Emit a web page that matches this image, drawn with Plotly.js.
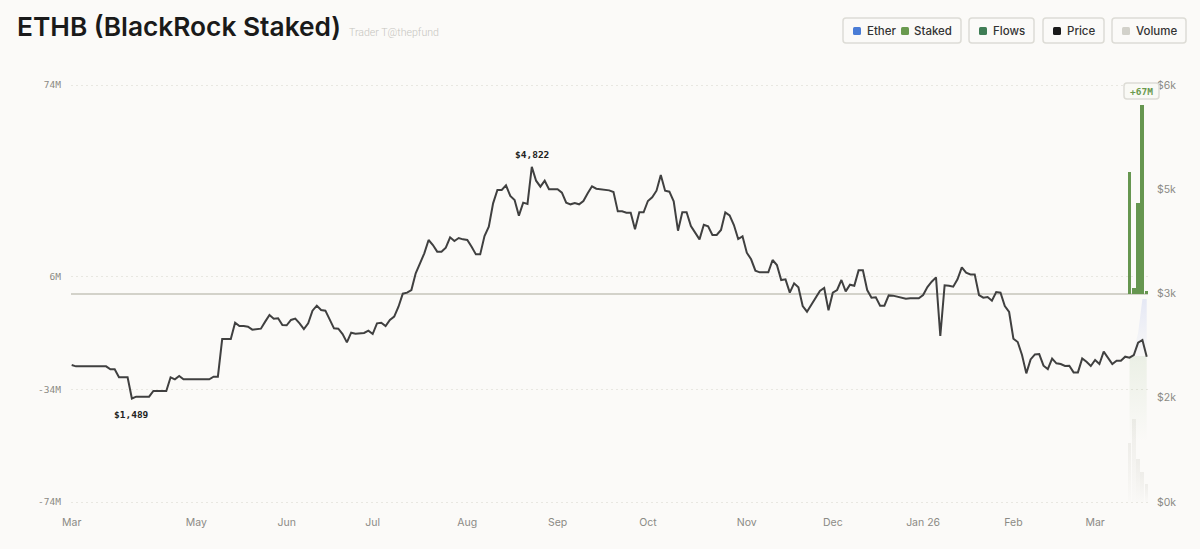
<!DOCTYPE html>
<html><head><meta charset="utf-8">
<script src="https://cdn.plot.ly/plotly-3.0.1.min.js"></script>
<style>html,body{margin:0;padding:0;background:#fbfaf8}#c{width:1200px;height:549px}</style>
</head><body><div id="c"></div>
<script>
const price = [1971,1952,1952,1952,1952,1952,1952,1952,1952,1909,1909,1794,1794,1794,1489,1516,1516,1516,1516,1597,1597,1597,1597,1794,1765,1813,1765,1765,1765,1765,1765,1765,1765,1803,1803,2345,2345,2345,2580,2532,2532,2523,2480,2489,2494,2595,2691,2638,2643,2547,2542,2619,2638,2571,2489,2571,2753,2825,2762,2753,2628,2499,2494,2417,2297,2436,2422,2432,2432,2465,2417,2571,2580,2532,2619,2667,2810,2997,3012,3050,
3290,3434,3578,3770,3698,3602,3602,3659,3808,3755,3798,3779,3770,3674,3563,3563,3827,3962,4297,4489,4489,4556,4403,4345,4120,4307,4288,4822,4623,4537,4623,4499,4499,4499,4451,4307,4283,4302,4283,4331,4441,4542,4508,4499,4484,4484,4460,4182,4182,4163,4163,3923,4168,4168,4331,4384,4479,4705,4479,4465,4326,3904,4168,4168,3971,3875,3779,3990,3966,3842,3842,3914,4168,4125,3985,3784,3822,3587,3492,3328,3304,3304,3304,3482,3410,
3194,3204,3012,3146,3088,2820,2738,2834,2930,3036,3079,2758,3012,3050,3194,3031,3127,3112,3333,3333,3050,2940,2945,2825,2825,2973,2969,2954,2935,2925,2930,2930,2930,2978,3093,3170,3232,2388,3117,3112,3098,3204,3376,3300,3275,3275,2978,2940,2949,2897,3021,3012,2820,2734,2350,2302,2115,1851,2052,2124,2129,1961,1913,2062,1995,
1985,1957,1961,1865,1865,2067,2019,1957,2043,1985,2163,2067,1985,2033,2033,2091,2076,2115,2292,2331,2091];
const days = price.map((_, i) => i);
const recentDays = [246,247,248,249,250];
const flows = [43.2,1.8,32.2,67,0.9];
const volume = [59,83,43,30,18];
const staked = [146,146,146,146,146];
const ether = [0,6,23,57,57];
const monthIdx = [0,29,50,70,92,113,134,157,177,198,219,238];
const monthLabels = ['Mar','May','Jun','Jul','Aug','Sep','Oct','Nov','Dec','Jan 26','Feb','Mar'];
const flowTicks = [-74,-34,6,74];
const flowTickLabels = ['-74M','-34M','6M','74M'];
const priceTicks = [0,1500,3000,4500,6000];
const priceTickLabels = ['$0k','$2k','$3k','$5k','$6k'];

const L=71,R=1148,T=82,B=505;
const px=x=>(x-L)/(R-L), py=y=>(B-y)/(B-T);
const MONO='"DejaVu Sans Mono",monospace', SANS='Inter,"Noto Sans",sans-serif';
function rrect(x0,y0,x1,y1,r,fill,line,lw){
  const rx=r/(R-L), ry=r/(B-T), a=px(x0),b=px(x1),c=py(y0),d=py(y1);
  return {type:'path',xref:'paper',yref:'paper',layer:'above',
    path:`M${a+rx},${c} L${b-rx},${c} Q${b},${c} ${b},${c-ry} L${b},${d+ry} Q${b},${d} ${b-rx},${d} L${a+rx},${d} Q${a},${d} ${a},${d+ry} L${a},${c-ry} Q${a},${c} ${a+rx},${c} Z`,
    fillcolor:fill,line:{color:line,width:lw}};
}
function txt(x,y,t,size,color,anchor,family,weight){
  return {xref:'paper',yref:'paper',x:px(x),y:py(y),text:t,showarrow:false,xanchor:anchor||'left',yanchor:'middle',
    font:{size:size,color:color,family:family||SANS,weight:weight||400}};
}
const sum=staked.map((v,i)=>v+ether[i]);
const traces=[
 {x:recentDays,y:sum,type:'scatter',mode:'lines',line:{width:0},fill:'tozeroy',xaxis:'x',yaxis:'y',hoverinfo:'skip',
  fillgradient:{type:'vertical',start:203,stop:140,colorscale:[[0,'rgba(80,110,220,0.13)'],[1,'rgba(80,110,220,0)']]}},
 {x:recentDays,y:staked,type:'scatter',mode:'lines',line:{width:0},fill:'tozeroy',xaxis:'x',yaxis:'y',hoverinfo:'skip',
  fillgradient:{type:'vertical',start:146,stop:60,colorscale:[[0,'rgba(106,154,79,0.11)'],[1,'rgba(106,154,79,0)']]}},
 {x:recentDays,y:volume,type:'bar',width:0.9,marker:{color:'#eeede9',line:{width:0}},xaxis:'x',yaxis:'y',hoverinfo:'skip'},
 {x:recentDays,y:flows,type:'bar',width:0.9,marker:{color:'#669650',line:{width:0}},xaxis:'x',yaxis:'y2'},
 {x:days,y:price,type:'scatter',mode:'lines',line:{color:'#404040',width:2,shape:'linear'},xaxis:'x',yaxis:'y3'}
];
const shapes=[
 rrect(843,18,961,43,3,'#fbfaf8','#dddcd6',1.5),
 rrect(969,18,1034,43,3,'#fbfaf8','#dddcd6',1.5),
 rrect(1043,18,1104,43,3,'#fbfaf8','#dddcd6',1.5),
 rrect(1112,18,1186,43,3,'#fbfaf8','#dddcd6',1.5),
 rrect(853,27,861,35,1.5,'#4a7cd6','#4a7cd6',0),
 rrect(901,27,909,35,1.5,'#6a9a4f','#6a9a4f',0),
 rrect(979,27,987,35,1.5,'#3f7d55','#3f7d55',0),
 rrect(1053,27,1061,35,1.5,'#1a1a1a','#1a1a1a',0),
 rrect(1122,27,1130,35,1.5,'#d2d1ca','#d2d1ca',0),
 rrect(1124,83,1159,99,3,'#f9f9f5','#dddcd6',1.5)
];
const annotations=[
 txt(15,27,'ETHB (BlackRock Staked)',26.3,'#1a1a1a','left',SANS,600),
 txt(347,32.5,'Trader T@thepfund',10.6,'#c6c5c0','left','Roboto,sans-serif',300),
 txt(865,31,'Ether',11.5,'#333333','left',SANS,500),txt(912,31,'Staked',11.5,'#333333','left',SANS,500),txt(991,31,'Flows',11.5,'#333333','left',SANS,500),
 txt(1065,31,'Price',11.5,'#333333','left',SANS,500),txt(1134,31,'Volume',11.5,'#333333','left',SANS,500),
 txt(1141.5,91.5,'+67M',9.5,'#6a9a4f','center',MONO,700),
 {x:107,y:price[107],xref:'x',yref:'y3',yshift:12,yanchor:'middle',text:'$4,822',showarrow:false,font:{family:MONO,size:9.5,color:'#222222',weight:700}},
 {x:14,y:price[14],xref:'x',yref:'y3',yshift:-16,yanchor:'middle',text:'$1,489',showarrow:false,font:{family:MONO,size:9.5,color:'#222222',weight:700}}
];
// 417 px between the outer gridlines (+/-74M, $0k-$6k); 3 px of slack each side of the plot
const slack=3/417;
const layout={
 width:1200,height:549,paper_bgcolor:'#fbfaf8',plot_bgcolor:'#fbfaf8',showlegend:false,barmode:'overlay',bargap:0,
 margin:{l:L,r:1200-R,t:T,b:549-B,pad:0},
 xaxis:{range:[-0.16,250.3],tickmode:'array',tickvals:monthIdx,ticktext:monthLabels,showgrid:false,zeroline:false,showline:false,ticks:'',
   ticklabelstandoff:9,tickfont:{family:SANS,size:10.5,color:'#8b8a85'},tickangle:0},
 yaxis:{range:[-3,420],visible:false,fixedrange:true},
 yaxis2:{overlaying:'y',side:'left',range:[-74-148*slack,74+148*slack],tickmode:'array',tickvals:flowTicks,ticktext:flowTickLabels,showgrid:true,
   gridcolor:'#e8e7e1',griddash:'2px,3px',gridwidth:1,zeroline:true,zerolinecolor:'#d3d2ca',zerolinewidth:2,showline:false,ticks:'',
   ticklabelstandoff:9,tickfont:{family:MONO,size:9.5,color:'#8b8a85'}},
 yaxis3:{overlaying:'y',side:'right',range:[-6000*slack,6000+6000*slack],tickmode:'array',tickvals:priceTicks,ticktext:priceTickLabels,showgrid:false,zeroline:false,
   showline:false,ticks:'',ticklabelstandoff:8,tickfont:{family:SANS,size:10.5,color:'#8b8a85'}},
 shapes:shapes,annotations:annotations
};
Plotly.newPlot('c',traces,layout,{displayModeBar:false,staticPlot:true}).then(gd=>{
  const svg=gd.querySelector('.main-svg');
  const ns='http://www.w3.org/2000/svg';
  const defs=svg.querySelector('defs');
  const g=document.createElementNS(ns,'linearGradient');
  g.setAttribute('id','volfade');g.setAttribute('x1','0');g.setAttribute('y1','0');g.setAttribute('x2','0');g.setAttribute('y2','1');
  [['0','#eeede9','1'],['1','#eeede9','0.1']].forEach(s=>{
    const st=document.createElementNS(ns,'stop');st.setAttribute('offset',s[0]);st.setAttribute('stop-color',s[1]);st.setAttribute('stop-opacity',s[2]);g.appendChild(st);
  });
  defs.appendChild(g);
  gd.querySelectorAll('.barlayer .point path').forEach(p=>{
    if(p.style.fill==='rgb(238, 237, 233)'){p.style.fill='url(#volfade)';p.style.fillOpacity=1;}
  });
});
</script></body></html>
